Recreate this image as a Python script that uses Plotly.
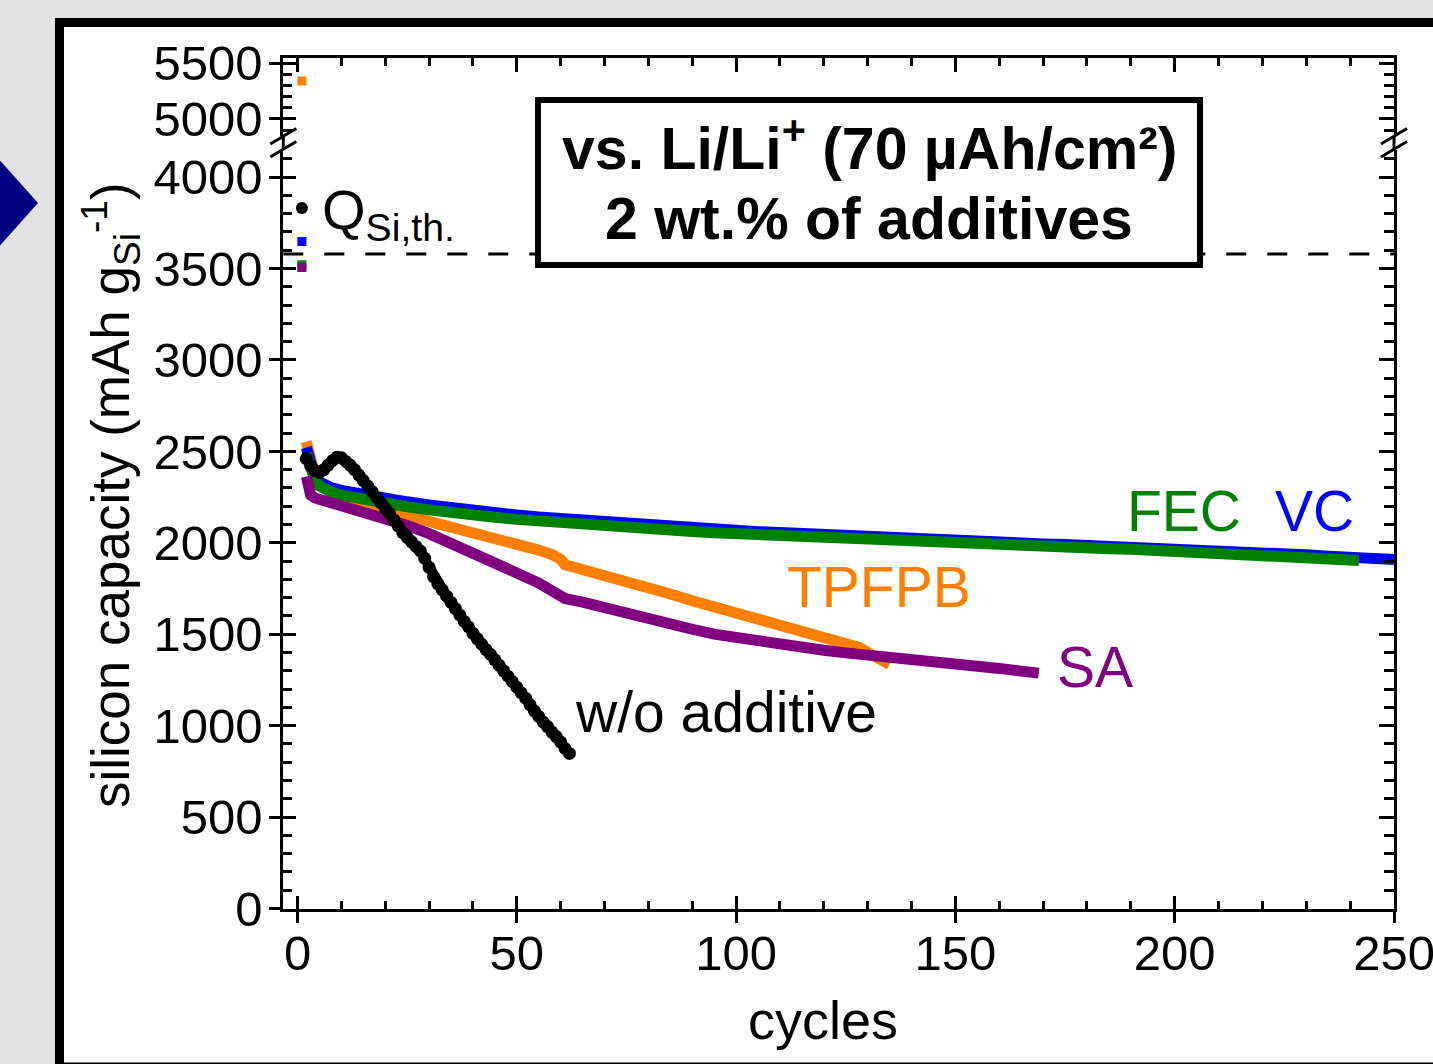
import plotly.graph_objects as go

W, H = 1433, 1064

# ---------------- data ----------------
wo_cycles = list(range(1, 63))
wo_cap = [3831, 2460, 2420, 2395, 2385, 2400, 2425, 2450, 2468, 2465,
          2445, 2425, 2400, 2370, 2340, 2310, 2280, 2250, 2220, 2190,
          2160, 2125, 2090, 2055, 2030, 2005, 1980, 1955, 1915, 1865,
          1815, 1775, 1742, 1708, 1674, 1640, 1605, 1570, 1540, 1505,
          1475, 1445, 1415, 1390, 1360, 1330, 1300, 1270, 1240, 1210,
          1180, 1150, 1115, 1080, 1050, 1020, 995, 965, 940, 910,
          875, 848]

fec_cycles = [1, 2, 3, 4, 5, 6, 8, 10, 13, 16, 20, 25, 30, 35, 40, 45, 50, 55,
              60, 65, 70, 75, 80, 85, 90, 95, 100, 105, 110, 115, 120, 125,
              130, 135, 140, 145, 150, 155, 160, 165, 170, 175, 180, 185, 190,
              195, 200, 205, 210, 215, 220, 225, 230, 235, 240, 242]
fec_cap = [3521, 2490, 2385, 2340, 2310, 2295, 2275, 2260, 2245, 2230, 2213,
           2197, 2180, 2163, 2151, 2140, 2128, 2118, 2110, 2100, 2090, 2078,
           2076, 2070, 2062, 2055, 2050, 2042, 2038, 2033, 2025, 2017, 2010,
           2005, 2000, 1997, 1993, 1990, 1985, 1983, 1980, 1976, 1972, 1968,
           1965, 1960, 1955, 1950, 1947, 1943, 1938, 1930, 1922, 1915, 1908,
           1903]

vc_cycles = [1, 2, 3, 4, 5, 6, 8, 10, 13, 16, 20, 25, 30, 35, 40, 45, 50, 55,
             60, 65, 70, 75, 80, 85, 90, 95, 100, 105, 110, 115, 120, 125,
             130, 135, 140, 145, 150, 155, 160, 165, 170, 175, 180, 185, 190,
             195, 200, 205, 210, 215, 220, 225, 230, 235, 240, 245, 250]
vc_cap = [3647, 2522, 2410, 2362, 2333, 2318, 2299, 2287, 2272, 2257, 2241,
          2224, 2207, 2190, 2176, 2164, 2152, 2141, 2132, 2122, 2112, 2102,
          2096, 2089, 2081, 2074, 2068, 2061, 2056, 2050, 2044, 2036, 2028,
          2022, 2016, 2012, 2008, 2004, 2000, 1997, 1994, 1990, 1986, 1982,
          1978, 1974, 1969, 1964, 1960, 1956, 1950, 1942, 1934, 1927, 1921,
          1914, 1908]

tpfpb_cycles = [1, 2, 3, 4, 5, 6, 8, 10, 13, 16, 20, 25, 30, 35, 40, 45, 50,
                55, 58, 60, 61, 65, 70, 75, 80, 85, 90, 95, 100, 105, 110, 115,
                118, 120, 125, 128, 130, 132, 134, 135]
tpfpb_cap = [5340, 2553, 2437, 2370, 2330, 2305, 2280, 2260, 2235, 2210, 2180,
             2150, 2120, 2090, 2060, 2025, 1990, 1960, 1935, 1910, 1880, 1855,
             1825, 1790, 1755, 1720, 1683, 1650, 1615, 1580, 1548, 1518, 1500,
             1475, 1445, 1428, 1400, 1375, 1352, 1335]

sa_cycles = [1, 2, 3, 4, 5, 6, 8, 10, 13, 16, 20, 25, 30, 35, 40, 45, 50, 55,
             58, 60, 61, 65, 70, 75, 80, 85, 90, 95, 100, 105, 110, 115, 120,
             125, 130, 135, 140, 145, 150, 155, 160, 165, 169]
sa_cap = [3505, 2362, 2262, 2245, 2238, 2230, 2215, 2205, 2188, 2168, 2135,
          2095, 2050, 2000, 1945, 1890, 1835, 1780, 1740, 1715, 1695, 1675,
          1643, 1617, 1585, 1555, 1527, 1500, 1480, 1460, 1443, 1427, 1412,
          1398, 1388, 1375, 1362, 1350, 1338, 1328, 1313, 1298, 1287]

Q_TH = 3579  # theoretical Si capacity (dashed line)

x_tick_vals = [0, 50, 100, 150, 200, 250]
x_tick_text = ["0", "50", "100", "150", "200", "250"]
y_low_tick_vals = [0, 500, 1000, 1500, 2000, 2500, 3000, 3500, 4000]
y_low_tick_text = ["0", "500", "1000", "1500", "2000", "2500", "3000", "3500", "4000"]
y_up_tick_vals = [5000, 5500]
y_up_tick_text = ["5000", "5500"]

C_BLACK = "#000000"
C_FEC = "#008000"
C_VC = "#0000ff"
C_TPFPB = "#ff8000"
C_SA = "#800080"

FONT = "Liberation Sans, Arial, Helvetica, sans-serif"


def px(x):
    return x / W


def py(y):
    return 1 - y / H


# ---------------- geometry (pixels) ----------------
AX_L, AX_R = 283.3, 1394.0
X_RANGE = [-3.24, 250]
LOW_BOT, LOW_TOP = 908.5, 150.0
LOW_RANGE = [0, 4148]
UP_BOT, UP_TOP = 136.0, 58.3
UP_RANGE = [4847, 5545]

fig = go.Figure()

LW = 11


def band(cyc, cap, color, name, first_on="y"):
    # first (formation) cycle as separate marker, rest as dense band
    fig.add_trace(go.Scatter(x=cyc[:1], y=cap[:1], mode="markers",
                             marker=dict(symbol="square", size=9, color=color),
                             yaxis=first_on, showlegend=False, name=name,
                             hoverinfo="skip"))
    fig.add_trace(go.Scatter(x=cyc[1:], y=cap[1:], mode="lines",
                             line=dict(color=color, width=LW),
                             yaxis="y", showlegend=False, name=name,
                             hoverinfo="skip"))


band(tpfpb_cycles, tpfpb_cap, C_TPFPB, "TPFPB", first_on="y2")
band(vc_cycles, vc_cap, C_VC, "VC")
band(fec_cycles, fec_cap, C_FEC, "FEC")
band(sa_cycles, sa_cap, C_SA, "SA")

fig.add_trace(go.Scatter(x=wo_cycles[:1], y=wo_cap[:1], mode="markers",
                         marker=dict(symbol="circle", size=12, color=C_BLACK),
                         showlegend=False, hoverinfo="skip"))
fig.add_trace(go.Scatter(x=wo_cycles[1:], y=wo_cap[1:], mode="lines+markers",
                         line=dict(color=C_BLACK, width=9),
                         marker=dict(symbol="circle", size=13, color=C_BLACK),
                         showlegend=False, hoverinfo="skip"))

# empty traces so every helper axis gets a subplot
for xa, ya in [("x2", "y"), ("x3", "y2"), ("x", "y3"), ("x", "y4"),
               ("x", "y5"), ("x", "y6")]:
    fig.add_trace(go.Scatter(x=[], y=[], xaxis=xa, yaxis=ya,
                             showlegend=False, hoverinfo="skip"))

TICKFONT = dict(family=FONT, size=49, color="black")
common = dict(showgrid=False, zeroline=False, fixedrange=True,
              tickcolor="black", tickwidth=3, linecolor="black", linewidth=3)

xdom = [px(AX_L), px(AX_R)]
ydom_low = [py(LOW_BOT), py(LOW_TOP)]
ydom_up = [py(UP_BOT), py(UP_TOP)]

MINOR_X = dict(tick0=0, dtick=10, ticks="inside", ticklen=8, tickwidth=3,
               tickcolor="black")
MINOR_Y = dict(tick0=0, dtick=100, ticks="inside", ticklen=9, tickwidth=3,
               tickcolor="black")

layout_axes = dict(
    # bottom axis: labels + inside half of the crossing major ticks
    xaxis=dict(domain=xdom, range=X_RANGE, anchor="y", side="bottom",
               tickmode="array", tickvals=x_tick_vals, ticktext=x_tick_text,
               ticks="inside", ticklen=13, showline=True, minor=MINOR_X,
               tickfont=TICKFONT, ticklabelstandoff=0,
               ticklabeloverflow="allow", **common),
    # bottom axis: outside half of the crossing major ticks
    xaxis2=dict(overlaying="x", range=X_RANGE, anchor="y", side="bottom",
                tickmode="array", tickvals=x_tick_vals, ticks="outside",
                ticklen=13, showticklabels=False, showline=False, **common),
    # top mirror axis
    xaxis3=dict(overlaying="x", range=X_RANGE, anchor="y2", side="top",
                tickmode="array", tickvals=x_tick_vals, ticks="inside",
                ticklen=14, showticklabels=False, showline=True,
                minor=MINOR_X, **common),
    yaxis=dict(domain=ydom_low, range=LOW_RANGE, anchor="x", side="left",
               tickmode="array", tickvals=y_low_tick_vals,
               ticktext=y_low_tick_text, ticks="inside", ticklen=13,
               showline=True, minor=MINOR_Y,
               tickfont=TICKFONT, ticklabelstandoff=8,
               ticklabeloverflow="allow", **common),
    yaxis2=dict(domain=ydom_up, range=UP_RANGE, anchor="x", side="left",
                tickmode="array", tickvals=y_up_tick_vals,
                ticktext=y_up_tick_text, ticks="inside", ticklen=13,
                showline=True, minor=MINOR_Y,
                tickfont=TICKFONT, ticklabelstandoff=8,
                ticklabeloverflow="allow", **common),
    yaxis3=dict(overlaying="y", range=LOW_RANGE, anchor="x", side="left",
                tickmode="array", tickvals=y_low_tick_vals, ticks="outside",
                ticklen=13, showticklabels=False, showline=False, **common),
    yaxis4=dict(overlaying="y2", range=UP_RANGE, anchor="x", side="left",
                tickmode="array", tickvals=y_up_tick_vals, ticks="outside",
                ticklen=13, showticklabels=False, showline=False, **common),
    yaxis5=dict(overlaying="y", range=LOW_RANGE, anchor="x", side="right",
                tickmode="array", tickvals=y_low_tick_vals, ticks="inside",
                ticklen=15, showticklabels=False, showline=True,
                minor=dict(MINOR_Y, ticklen=10), **common),
    yaxis6=dict(overlaying="y2", range=UP_RANGE, anchor="x", side="right",
                tickmode="array", tickvals=y_up_tick_vals, ticks="inside",
                ticklen=15, showticklabels=False, showline=True,
                minor=dict(MINOR_Y, ticklen=10), **common),
)

shapes = []
# white panel with thick black frame
shapes.append(dict(type="rect", xref="paper", yref="paper", layer="below",
                   x0=px(59.5), x1=px(1520), y0=py(1067), y1=py(22.5),
                   line=dict(color="black", width=9), fillcolor="white"))
# navy arrow head at the left edge
shapes.append(dict(type="path", xref="paper", yref="paper", layer="below",
                   path=f"M {px(-5)},{py(155)} L {px(38)},{py(203)} L {px(-5)},{py(251)} Z",
                   line=dict(width=0), fillcolor="#000080"))
# axis line across the break + break marks
for ax in (AX_L, AX_R):
    shapes.append(dict(type="line", xref="paper", yref="paper",
                       x0=px(ax), x1=px(ax), y0=py(UP_BOT), y1=py(LOW_TOP),
                       line=dict(color="black", width=3)))
    for yb in (144, 157):
        shapes.append(dict(type="line", xref="paper", yref="paper",
                           x0=px(ax - 13), y0=py(yb), x1=px(ax + 13), y1=py(yb - 15.5),
                           line=dict(color="black", width=3)))
# dashed theoretical capacity line
shapes.append(dict(type="line", xref="x domain", yref="y", x0=0, x1=1,
                   y0=Q_TH, y1=Q_TH, layer="above",
                   line=dict(color="black", width=3, dash="20px,21px")))
# info box
shapes.append(dict(type="rect", xref="paper", yref="paper", layer="above",
                   x0=px(538), x1=px(1200), y0=py(265), y1=py(100),
                   line=dict(color="black", width=6), fillcolor="white"))

ann = []


def label(text, x, y, size, color="black", xanchor="center", bold=False,
          angle=0):
    ann.append(dict(text=(f"<b>{text}</b>" if bold else text),
                    x=px(x), y=py(y), xref="paper", yref="paper",
                    xanchor=xanchor, yanchor="middle", showarrow=False,
                    textangle=angle,
                    font=dict(family=FONT, size=size, color=color)))


label("vs. Li/Li<sup>+</sup> (70 µAh/cm²)", 869, 144, 59, bold=True)
label("2 wt.% of additives", 869, 219, 59, bold=True)
label("Q<sub>Si,th.</sub>", 320, 214, 56, xanchor="left")
label("w/o additive", 573, 712, 57, xanchor="left")
label("TPFPB", 785, 587, 57, color=C_TPFPB, xanchor="left")
label("SA", 1055, 667, 57, color=C_SA, xanchor="left")
label("FEC", 1125, 511, 57, color=C_FEC, xanchor="left")
label("VC", 1273, 511, 57, color=C_VC, xanchor="left")
label("cycles", 823, 1020, 54)
label("silicon capacity (mAh g<sub>Si</sub><sup>-1</sup>)", 110, 495, 53,
      angle=-90)

fig.update_layout(
    width=W, height=H,
    margin=dict(l=0, r=0, t=0, b=0, pad=0, autoexpand=False),
    paper_bgcolor="#e2e2e2",
    plot_bgcolor="rgba(0,0,0,0)",
    showlegend=False,
    shapes=shapes,
    annotations=ann,
    **layout_axes,
)

fig.write_html("out.html")
